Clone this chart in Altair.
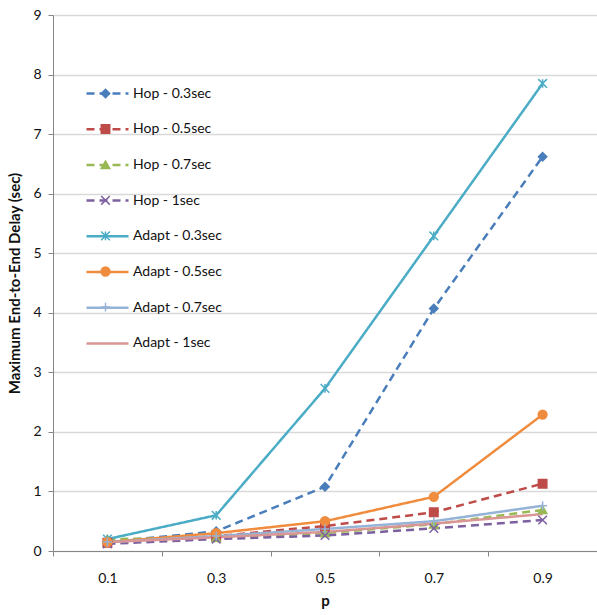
import altair as alt
import pandas as pd

p_values = ["0.1", "0.3", "0.5", "0.7", "0.9"]
series_names = ["Hop - 0.3sec", "Hop - 0.5sec", "Hop - 0.7sec", "Hop - 1sec",
                "Adapt - 0.3sec", "Adapt - 0.5sec", "Adapt - 0.7sec", "Adapt - 1sec"]

hop_03 = [0.15, 0.33, 1.08, 4.07, 6.62]
hop_05 = [0.14, 0.25, 0.42, 0.65, 1.13]
hop_07 = [0.20, 0.22, 0.30, 0.45, 0.69]
hop_1 = [0.12, 0.20, 0.26, 0.38, 0.52]
adapt_03 = [0.20, 0.60, 2.73, 5.29, 7.85]
adapt_05 = [0.15, 0.30, 0.50, 0.91, 2.29]
adapt_07 = [0.15, 0.25, 0.37, 0.50, 0.76]
adapt_1 = [0.15, 0.23, 0.32, 0.46, 0.62]

series_values = [hop_03, hop_05, hop_07, hop_1, adapt_03, adapt_05, adapt_07, adapt_1]

colors = ["#4A7EBB", "#BE4B48", "#98B954", "#7D60A0",
          "#4BACC6", "#F08C3E", "#95B3D7", "#D99694"]
dashes = [[8, 5], [8, 5], [8, 5], [8, 5], [1, 0], [1, 0], [1, 0], [1, 0]]
widths = [2.5, 2.5, 2.5, 2.5, 2.5, 4.2, 4, 3.5]

X_PATH = "M-1,-1L1,1M-1,1L1,-1"
STAR_PATH = "M-1,-1L1,1M-1,1L1,-1M0,-1L0,1"
PLUS_PATH = "M-1,0L1,0M0,-1L0,1"
shapes = ["diamond", "square", "triangle-up", X_PATH, STAR_PATH, "circle", PLUS_PATH, "circle"]
fills = ["#4A7EBB", "#BE4B48", "#98B954", "transparent",
         "transparent", "#F08C3E", "transparent", "transparent"]
strokes = ["#4A7EBB", "#BE4B48", "#98B954", "#7D60A0",
           "#4BACC6", "#F08C3E", "#95B3D7", "transparent"]
sizes = [70, 80, 55, 55, 60, 160, 140, 10]

rows = []
for name, vals in zip(series_names, series_values):
    for p, v in zip(p_values, vals):
        rows.append({"p": p, "delay": v, "series": name, "mk": name + " "})
df = pd.DataFrame(rows)
marker_domain = [n + " " for n in series_names]

FONT = "Lato"

x_enc = alt.X("p:N", sort=p_values, title="p",
              scale=alt.Scale(paddingInner=0, paddingOuter=0),
              axis=alt.Axis(labelAngle=0, tickBand="extent", grid=False,
                            labelFontSize=14, labelFont=FONT, labelColor="#111",
                            labelPadding=15, tickSize=5,
                            titleFont=FONT, titleFontSize=15, titleFontWeight="bold",
                            titleColor="#111", titlePadding=8,
                            domainColor="#868686", tickColor="#868686"))
y_enc = alt.Y("delay:Q", title="Maximum End-to-End Delay (sec)",
              scale=alt.Scale(domain=[0, 9], nice=False),
              axis=alt.Axis(values=list(range(10)), format="d", labelFontSize=14, labelFont=FONT,
                            labelColor="#111", labelPadding=7, tickSize=5,
                            gridColor="#d9d9d9", gridWidth=1.3,
                            domainColor="#868686", tickColor="#868686",
                            titleFont=FONT, titleFontSize=15, titleFontWeight="bold",
                            titleColor="#111", titlePadding=10))

lines = alt.Chart(df).mark_line().encode(
    x=x_enc,
    y=y_enc,
    color=alt.Color("series:N", scale=alt.Scale(domain=series_names, range=colors),
                    legend=alt.Legend(orient="none", legendX=32, legendY=72, title=None,
                                      symbolType="stroke", symbolSize=1764,
                                      labelFontSize=14, labelFont=FONT, labelColor="#111",
                                      labelOffset=3, rowPadding=20.7, clipHeight=13,
                                      padding=0, symbolOpacity=1)),
    strokeDash=alt.StrokeDash("series:N", scale=alt.Scale(domain=series_names, range=dashes)),
    strokeWidth=alt.StrokeWidth("series:N", scale=alt.Scale(domain=series_names, range=widths)),
)

points = alt.Chart(df).mark_point(opacity=1, strokeWidth=1.5).encode(
    x=alt.X("p:N", sort=p_values),
    y=alt.Y("delay:Q"),
    fill=alt.Fill("mk:N", scale=alt.Scale(domain=marker_domain, range=fills),
                  legend=alt.Legend(orient="none", legendX=47, legendY=72, title=None,
                                    labelExpr="''", rowPadding=22.6, clipHeight=13,
                                    padding=0, symbolOpacity=1, symbolStrokeWidth=1.5)),
    stroke=alt.Stroke("mk:N", scale=alt.Scale(domain=marker_domain, range=strokes)),
    shape=alt.Shape("mk:N", scale=alt.Scale(domain=marker_domain, range=shapes)),
    size=alt.Size("mk:N", scale=alt.Scale(domain=marker_domain, range=sizes)),
)

chart = alt.layer(lines, points).properties(
    width=544, height=536,
    autosize=alt.AutoSizeParams(type="none"),
    padding={"left": 53, "top": 15, "right": 0, "bottom": 64},
).configure_view(stroke=None).configure(background="white")

chart.save("out.html", embed_options={"renderer": "svg", "actions": False})
